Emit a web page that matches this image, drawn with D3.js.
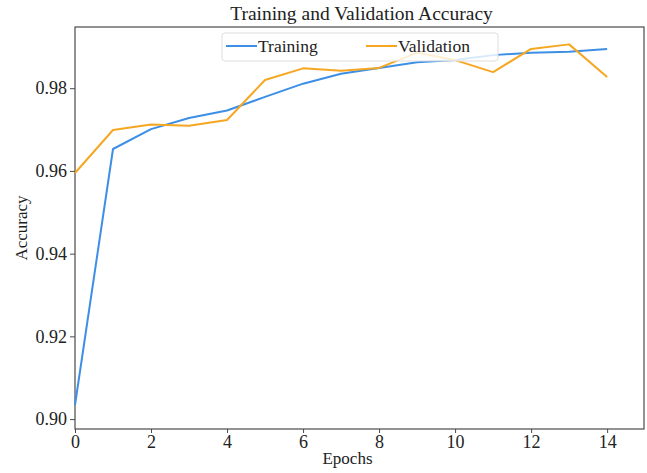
<!DOCTYPE html>
<html>
<head>
<meta charset="utf-8">
<script src="https://cdn.jsdelivr.net/npm/d3@7"></script>
<style>
  body { margin: 0; background: #fff; }
  svg text { font-family: "Liberation Serif", "Times New Roman", serif; fill: #222; }
</style>
</head>
<body>
<svg id="chart" width="647" height="473"></svg>
<script>
// epochs and accuracy per epoch
var epochs = [0, 1, 2, 3, 4, 5, 6, 7, 8, 9, 10, 11, 12, 13, 14];
var training = [0.9034, 0.9653, 0.9701, 0.9728, 0.9746, 0.9779, 0.9811, 0.9835, 0.9849, 0.9863, 0.9868, 0.9880, 0.9886, 0.9888, 0.9895];
var validation = [0.9595, 0.9699, 0.9712, 0.9709, 0.9723, 0.9820, 0.9848, 0.9842, 0.9849, 0.9886, 0.9868, 0.9839, 0.9895, 0.9906, 0.9827];
var xTicks = [0, 2, 4, 6, 8, 10, 12, 14];
var yTicks = [0.90, 0.92, 0.94, 0.96, 0.98];

var series = [
    {name: "Training", values: training, color: "#3d8fe6"},
    {name: "Validation", values: validation, color: "#f5a721"}
];

var svg = d3.select("#chart");
// plot box (note: "top" is a reserved window prop, so use other names)
var plotL = 75, plotR = 644, plotT = 27, plotB = 429;

var x = d3.scaleLinear().domain([0, 14.97]).range([plotL, plotR]);
var y = d3.scaleLinear().domain([0.8976, 0.9948]).range([plotB, plotT]);

// frame
svg.append("rect")
    .attr("x", plotL).attr("y", plotT)
    .attr("width", plotR - plotL).attr("height", plotB - plotT)
    .attr("fill", "none").attr("stroke", "#4a4a4a").attr("stroke-width", 1.2);

// axes
var xAxis = svg.append("g")
    .attr("transform", "translate(0," + plotB + ")")
    .call(d3.axisBottom(x).tickValues(xTicks).tickSize(4).tickPadding(2)
          .tickFormat(d3.format("d")));
var yAxis = svg.append("g")
    .attr("transform", "translate(" + plotL + ",0)")
    .call(d3.axisLeft(y).tickValues(yTicks).tickSize(5).tickPadding(3)
          .tickFormat(d3.format(".2f")));

[xAxis, yAxis].forEach(function (g) {
    g.select(".domain").remove();
    g.selectAll(".tick line").attr("stroke", "#4a4a4a").attr("stroke-width", 1);
    g.selectAll(".tick text")
        .style("font-family", "'Liberation Serif', serif")
        .style("font-size", "18px").attr("fill", "#222");
});

// lines
var line = d3.line()
    .x(function (d, i) { return x(epochs[i]); })
    .y(function (d) { return y(d); });

series.forEach(function (s) {
    svg.append("path")
        .datum(s.values)
        .attr("d", line)
        .attr("fill", "none")
        .attr("stroke", s.color)
        .attr("stroke-width", 2)
        .attr("stroke-linejoin", "round");
});

// title and labels
svg.append("text")
    .attr("x", (plotL + plotR) / 2 + 2).attr("y", 20)
    .attr("text-anchor", "middle")
    .style("font-size", "19.5px")
    .text("Training and Validation Accuracy");

svg.append("text")
    .attr("x", (plotL + plotR) / 2 - 12).attr("y", 464)
    .attr("text-anchor", "middle")
    .style("font-size", "17px")
    .text("Epochs");

svg.append("text")
    .attr("transform", "translate(27," + ((plotT + plotB) / 2) + ") rotate(-90)")
    .attr("text-anchor", "middle")
    .style("font-size", "17px")
    .text("Accuracy");

// legend, two columns
var legend = svg.append("g");
legend.append("rect")
    .attr("x", 222).attr("y", 33)
    .attr("width", 276).attr("height", 28)
    .attr("rx", 3)
    .attr("fill", "#fff").attr("fill-opacity", 0.8)
    .attr("stroke", "#ddd");

var items = legend.selectAll(".item")
    .data(series).enter()
    .append("g")
    .attr("transform", function (d, i) { return "translate(" + (226 + i * 140) + ",46)"; });
items.append("line")
    .attr("x1", 0).attr("x2", 31)
    .attr("stroke", function (d) { return d.color; })
    .attr("stroke-width", 2);
items.append("text")
    .attr("x", 32).attr("y", 6)
    .style("font-size", "17.5px")
    .text(function (d) { return d.name; });
</script>
</body>
</html>
